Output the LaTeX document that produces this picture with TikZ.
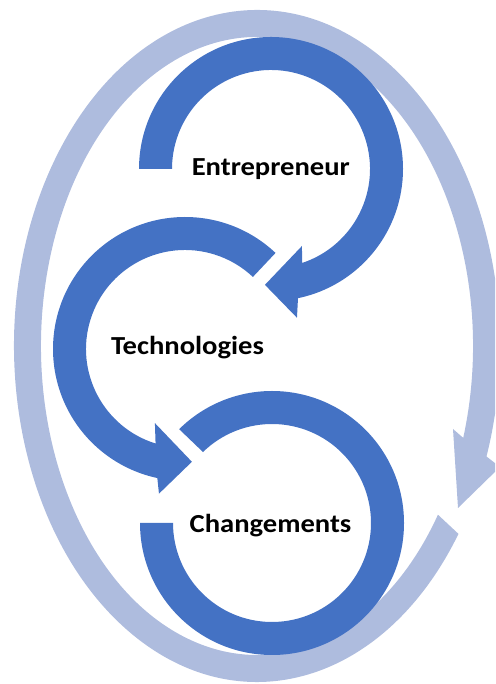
\documentclass[tikz,border=0pt]{standalone}
\usepackage{graphicx}
\usepackage{fontspec}
\setmainfont{Carlito}
\definecolor{darkblue}{RGB}{68,114,196}
\definecolor{lightblue}{RGB}{174,188,222}
\newcommand{\widetext}[1]{\scalebox{1.1}[1]{#1}}
\tikzset{
  ring/.style={fill=lightblue, draw=none},
  cyclearrow/.style={fill=darkblue, draw=none},
  label/.style={font=\bfseries\fontsize{26}{30}\selectfont, anchor=base, inner sep=0pt, text=black}
}
\begin{document}
\begin{tikzpicture}[x=1pt,y=1pt]
\useasboundingbox (0,0) rectangle (495,684);
\clip (0,0) rectangle (495,684);
% outer light ring arrow
\begin{scope}[shift={(257,338)}]
  \fill[ring] (-34:243 and 336) arc[start angle=-34, end angle=-379.2, x radius=243, y radius=336]
    -- (243,-121) -- (201,-162) -- (196,-83)
    -- (-377.3:216 and 309) arc[start angle=-377.3, end angle=-33.1, x radius=216, y radius=309] -- cycle;
\end{scope}
% Entrepreneur arrow
\begin{scope}[shift={(271,515)}]
  \fill[cyclearrow] (180:132) arc[start angle=180, end angle=-78.2, radius=132]
    -- (-80.1:151) -- (-93:116) -- (-68.1:83)
    -- (-71.7:99) arc[start angle=-71.7, end angle=180, radius=99] -- cycle;
\end{scope}
% Technologies arrow
\begin{scope}[shift={(185,335)}]
  \fill[cyclearrow] (46.7:132) arc[start angle=46.7, end angle=257.9, radius=132]
    -- (259.8:147) -- (273.5:113) -- (247.9:80)
    -- (252.7:99) arc[start angle=252.7, end angle=46.7, radius=99] -- cycle;
\end{scope}
% Changements arc
\begin{scope}[shift={(272,161)}]
  \fill[cyclearrow] (180:132) arc[start angle=180, end angle=494.7, radius=132]
    -- (494.2:99) arc[start angle=494.2, end angle=180, radius=99] -- cycle;
\end{scope}
\node[label] (entrepreneur) at (270.8,508.3) {\widetext{Entrepreneur}};
\node[label] (technologies) at (187.5,329) {\widetext{Technologies}};
\node[label] (changements) at (270.5,151.3) {\widetext{Changements}};
\end{tikzpicture}
\end{document}
